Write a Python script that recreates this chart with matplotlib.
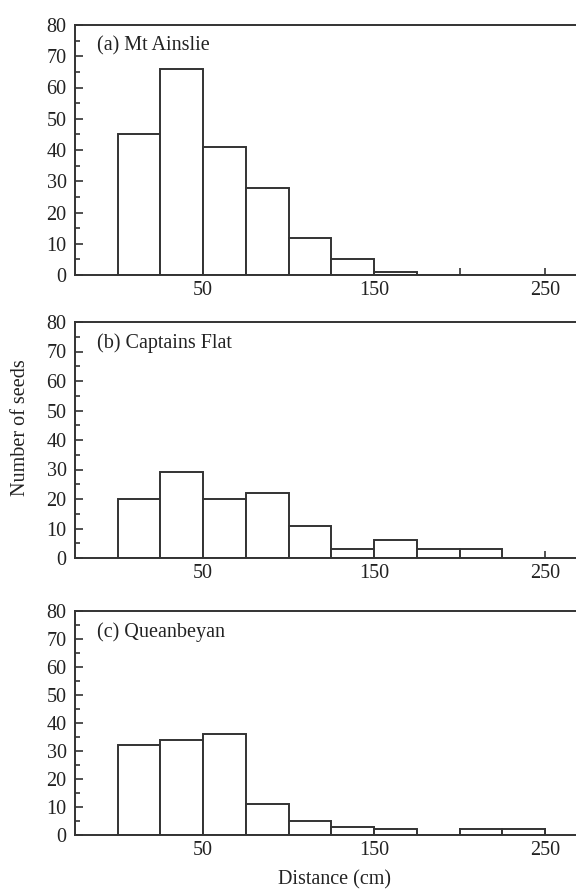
import numpy as np
import matplotlib
matplotlib.use("Agg")
import matplotlib.pyplot as plt
from matplotlib.ticker import MultipleLocator, FixedLocator, FixedFormatter

bin_edges = [0, 25, 50, 75, 100, 125, 150, 175, 200, 225]
bin_width = 25
mt_ainslie = [45, 66, 41, 28, 12, 5, 1, 0, 0, 0]
captains_flat = [20, 29, 20, 22, 11, 3, 6, 3, 3, 0]
queanbeyan = [32, 34, 36, 11, 5, 3, 2, 0, 2, 2]
panel_titles = ["(a) Mt Ainslie", "(b) Captains Flat", "(c) Queanbeyan"]
xtick_values = [50, 100, 150, 200, 250]
xtick_labels = ["50", "", "150", "", "250"]

plt.rcParams['font.family'] = ['Liberation Serif', 'DejaVu Serif']
INK = '#333333'
TXT = '#222222'
FS = 14.5

fig = plt.figure(figsize=(5.76, 8.90), dpi=100)
W, H = 576, 890
# (top_px, bottom_px)
panels = [(25, 275), (322, 558), (611, 835)]
left_px = 75

for (top, bot), counts, title in zip(panels, [mt_ainslie, captains_flat, queanbeyan], panel_titles):
    ax = fig.add_axes([left_px / W, 1 - bot / H, (W - left_px) / W, (bot - top) / H])
    ax.bar(bin_edges, counts, width=bin_width, align='edge', facecolor='white',
           edgecolor=INK, linewidth=1.4, zorder=2)
    ax.set_xlim(-25, 268)
    ax.set_ylim(0, 80)
    ax.spines['right'].set_visible(False)
    for s in ['left', 'bottom', 'top']:
        ax.spines[s].set_linewidth(1.4)
        ax.spines[s].set_color(INK)
    ax.yaxis.set_major_locator(MultipleLocator(10))
    ax.yaxis.set_minor_locator(MultipleLocator(5))
    ax.xaxis.set_major_locator(FixedLocator(xtick_values))
    ax.xaxis.set_major_formatter(FixedFormatter(xtick_labels))
    ax.tick_params(axis='both', which='both', direction='in', colors=INK,
                   labelsize=FS, width=1.2)
    ax.tick_params(axis='y', which='major', length=6, pad=6, left=True, right=False)
    ax.tick_params(axis='y', which='minor', length=3.5, left=True, right=False)
    ax.tick_params(axis='x', which='major', length=5, pad=4, top=False)
    ax.tick_params(labelcolor=TXT)
    ax.text(0.043, 1 - 21 / (bot - top), title, transform=ax.transAxes, fontsize=FS,
            color=TXT, va='center', ha='left')

fig.text(21 / W, 1 - 428 / H, "Number of seeds", rotation=90, fontsize=FS,
         color=TXT, ha='center', va='center')
fig.text(335 / W, 1 - 880 / H, "Distance (cm)", fontsize=FS,
         color=TXT, ha='center', va='center')

fig.savefig("out.png", dpi=100)
